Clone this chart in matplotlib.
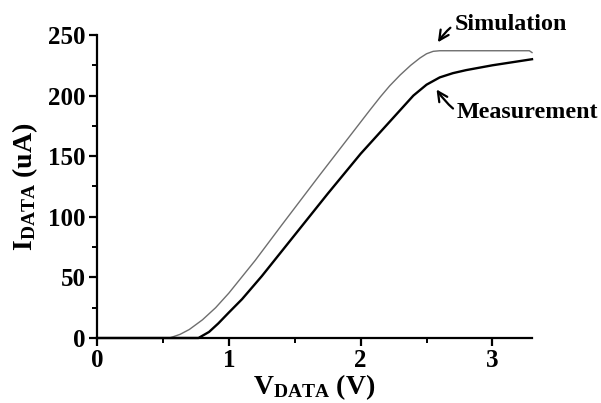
import numpy as np
import matplotlib.pyplot as plt
from matplotlib.ticker import MultipleLocator

# I-V curves (V in volts, I in uA)
v_sim = [0.0, 0.55, 0.63, 0.7, 0.8, 0.9, 1.0, 1.2, 1.4, 1.69, 2.07, 2.15, 2.22, 2.3,
         2.38, 2.45, 2.5, 2.55, 2.6, 2.8, 3.0, 3.28, 3.3]
i_sim = [0, 0, 3, 7, 15, 25, 37, 64, 93, 134.5, 188, 199, 208, 217,
         225, 231, 234.5, 236.5, 237, 237, 237, 237, 235.5]

v_meas = [0.0, 0.77, 0.85, 0.92, 1.0, 1.1, 1.25, 1.5, 1.75, 2.0, 2.2, 2.3, 2.4,
          2.5, 2.6, 2.7, 2.8, 3.0, 3.3]
i_meas = [0, 0, 5, 12, 21, 32, 51, 85, 119, 152, 176, 188, 200,
          209, 215, 218.5, 221, 225, 230]

plt.rcParams['font.family'] = 'Liberation Serif'
plt.rcParams['font.weight'] = 'bold'
plt.rcParams['mathtext.fontset'] = 'custom'
plt.rcParams['mathtext.rm'] = 'Liberation Serif:bold'

fig = plt.figure(figsize=(6.01, 4.03), dpi=100)
ax = fig.add_axes([0.1614, 0.1613, 0.7238, 0.7519])

ax.plot(v_sim, i_sim, color='#6e6e6e', lw=1.0, clip_on=False)
ax.plot(v_meas, i_meas, color='black', lw=1.7, clip_on=False)

ax.set_xlim(0, 3.3)
ax.set_ylim(0, 250)
ax.xaxis.set_major_locator(MultipleLocator(1))
ax.xaxis.set_minor_locator(MultipleLocator(0.5))
ax.yaxis.set_major_locator(MultipleLocator(50))
ax.yaxis.set_minor_locator(MultipleLocator(25))

for s in ['top', 'right']:
    ax.spines[s].set_visible(False)
for s in ['left', 'bottom']:
    ax.spines[s].set_linewidth(1.6)
ax.tick_params(which='major', length=6, width=1.6, labelsize=18, pad=2)
ax.tick_params(which='minor', length=3.5, width=1.4)

ax.set_xlabel(r'$\mathrm{V_{DATA}}$ (V)', fontsize=20, fontweight='bold', labelpad=0)
ax.set_ylabel(r'$\mathrm{I_{DATA}}$ (uA)', fontsize=20, fontweight='bold', labelpad=6)

ax.annotate('Simulation', xy=(2.58, 243), xytext=(2.71, 259),
            fontsize=17.3, fontweight='bold', va='center', ha='left',
            annotation_clip=False,
            arrowprops=dict(arrowstyle='->', lw=1.6, color='black',
                            connectionstyle='arc3,rad=0.45', shrinkA=1, shrinkB=1))
ax.annotate('Measurement', xy=(2.57, 206), xytext=(2.73, 186),
            fontsize=17.3, fontweight='bold', va='center', ha='left',
            annotation_clip=False,
            arrowprops=dict(arrowstyle='->', lw=1.6, color='black',
                            connectionstyle='arc3,rad=-0.45', shrinkA=1, shrinkB=1))

fig.savefig('out.png', dpi=100)
